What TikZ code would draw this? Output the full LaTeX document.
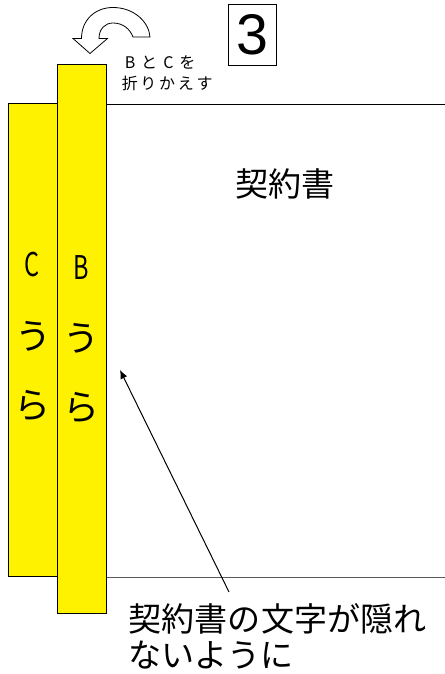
\documentclass[tikz,border=0pt]{standalone}
\usepackage{fontspec}
\usetikzlibrary{arrows.meta}
\setmainfont{Liberation Sans}
\newfontfamily\cjk{Noto Sans CJK JP}
\tikzset{
  x=0.75pt,y=-0.75pt,
  strip/.style={draw=black,fill=yellow,line width=0.75pt,inner sep=0pt,outer sep=0pt,anchor=north west},
  edgeline/.style={draw=black,line width=0.75pt},
  lab/.style={inner sep=0pt,font=\cjk\fontsize{27pt}{30pt}\selectfont},
  letter/.style={inner sep=0pt,font=\cjk\fontsize{24.5pt}{28pt}\selectfont,xscale=0.72},
  small/.style={inner sep=0pt,anchor=west,font=\cjk\fontsize{12pt}{14pt}\selectfont},
  big/.style={inner sep=0pt,anchor=west,font=\cjk\fontsize{24.8pt}{28pt}\selectfont}
}
\begin{document}
\begin{tikzpicture}
\useasboundingbox (0,0) rectangle (445,674);
\fill[white] (0,0) rectangle (445,674);
% document edges
\coordinate (tr) at (445,104);
\coordinate (br) at (445,577);
\coordinate (tl) at (100,104);
\coordinate (bl) at (100,577);
\draw[edgeline] (tl) -- (tr);
\draw[edgeline,draw=black!65] (bl) -- (br);
% strips
\node[strip,minimum width=36.4pt,minimum height=355pt] (C) at (8.5,103) {};
\node[strip,minimum width=36.6pt,minimum height=411.5pt] (B) at (57.3,64.7) {};
% strip labels
\node[letter] (c1) at (32.5,265) {C};
\node[letter] (b1) at (81.5,267.5) {B};
\node[lab] (c2) at (33.5,336) {う};
\node[lab] (b2) at (81.5,338) {う};
\node[lab] (c3) at (32.5,406) {ら};
\node[lab] (b3) at (81,408) {ら};
% curved block arrow
\draw[fill=white,draw=black,line width=0.6pt,line join=miter]
  (90,53.5) -- (73,38.5) -- (81.5,38.5)
  .. controls (81.5,20) and (95,7.5) .. (113,7.5)
  .. controls (134,7.5) and (149,22) .. (150,37)
  -- (133,37)
  .. controls (130,29) and (123,23) .. (113,23)
  .. controls (105,23) and (99,29) .. (99,38.5)
  -- (107.5,38.5) -- cycle;
% boxed numeral
\node[draw=black,line width=1.2pt,minimum width=36pt,minimum height=46pt,inner sep=0pt,font=\fontsize{43pt}{45pt}\selectfont] (num) at (252.5,35) {3};
% texts
\node[small] (t1) at (124.5,62) {\addfontfeature{LetterSpace=17}B\kern4.3ptと\kern4.8ptC\kern4.3ptを};
\node[small] (t2) at (121.5,83) {\addfontfeature{LetterSpace=17}折りかえす};
\node[big] (title) at (235,184) {契約書};
\node[big] (n1) at (128.5,619) {契約書の文字が隠れ};
\node[big] (n2) at (128.5,655) {ないように};
% pointer
\coordinate (ptip) at (120,370);
\coordinate (pend) at (229,592);
\draw[line width=0.75pt,-{Latex[length=6.5pt,width=5.5pt]}] (pend) -- (ptip);
\end{tikzpicture}
\end{document}
